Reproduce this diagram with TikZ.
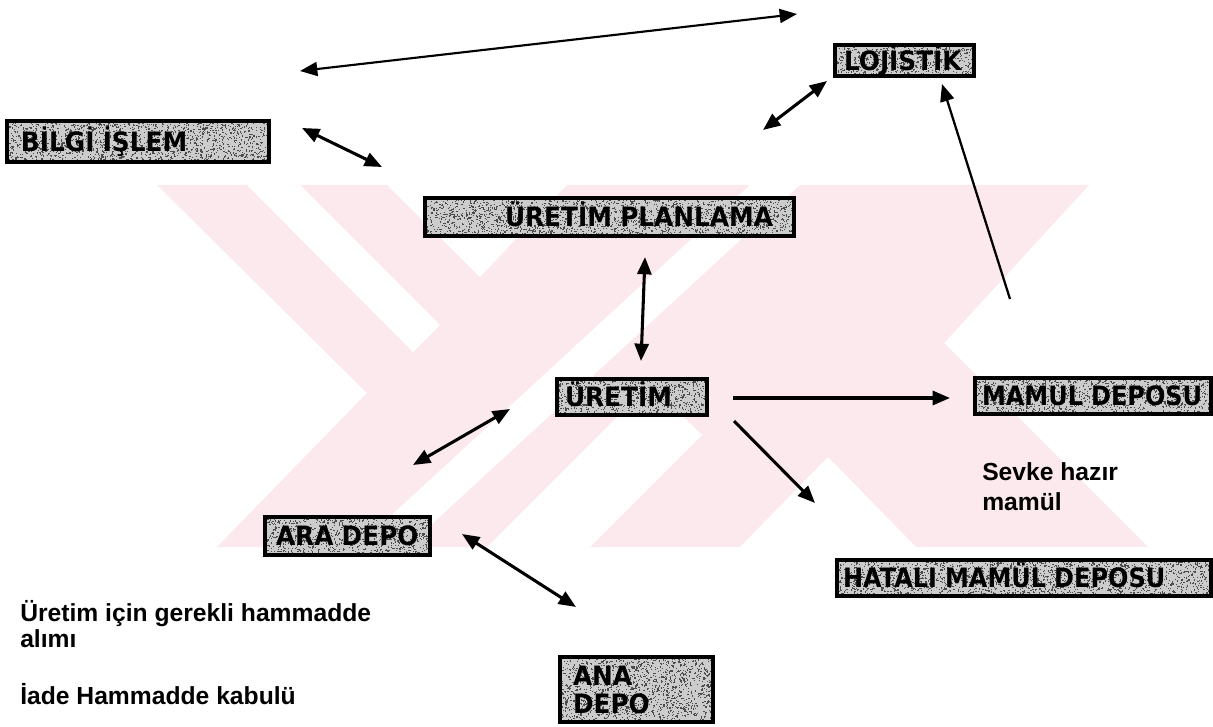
\documentclass[tikz,border=0pt]{standalone}
\usepackage{graphicx}
\usepackage{fontspec}
\setmainfont{Liberation Sans}
\newfontfamily\stagefont{DejaVu Sans}
\usetikzlibrary{arrows.meta}
\definecolor{wmpink}{RGB}{252,233,237}
\definecolor{boxgray}{RGB}{204,204,204}
\pgfdeclarelayer{emblem}
\pgfdeclarelayer{grain}
\pgfsetlayers{emblem,grain,main}

% condensed lettering
\newcommand\narrow[2][0.93]{\scalebox{#1}[1]{#2}}

% grainy fill under a department box
\newcommand\grain[2]{%
  \fill[boxgray] (#1.south west) rectangle (#1.north east);
  \path (#1.south west); \pgfgetlastxy{\gax}{\gay}%
  \path (#1.north east); \pgfgetlastxy{\gbx}{\gby}%
  \pgfmathsetmacro\gw{\gbx-\gax-0.9}%
  \pgfmathsetmacro\gh{\gby-\gay-0.9}%
  \foreach \k in {1,...,#2}{%
    \pgfmathsetmacro\rx{\gax+rnd*\gw}%
    \pgfmathsetmacro\ry{\gay+rnd*\gh}%
    \fill[black!70] (\rx pt,\ry pt) rectangle ++(0.9pt,0.9pt);
  }%
}

\tikzset{
  stage/.style={draw=black, line width=2.6pt, inner xsep=2.25pt, inner ysep=0pt,
    align=left, font=\stagefont\bfseries\fontsize{20}{21}\selectfont,
    text height=14.6pt, text depth=0pt},
  flow/.style={line width=2.3pt, -{Triangle[length=13pt,width=10.5pt]}},
  both/.style={line width=2.3pt, {Triangle[length=13pt,width=10.5pt]}-{Triangle[length=13pt,width=10.5pt]}},
  note/.style={font=\bfseries\fontsize{18.5}{20}\selectfont, anchor=base west, inner sep=0pt},
}
\begin{document}
\pgfmathsetseed{2718}
\begin{tikzpicture}[x=0.75pt,y=-0.75pt]
\useasboundingbox (0,0) rectangle (1213,727);

% background emblem
\begin{pgfonlayer}{emblem}
\fill[white] (0,0) rectangle (1213,727);
\fill[wmpink] (157,185) -- (1089,185) -- (944,343) -- (1148,547) -- (217,547) -- (367,393) -- cycle;
\fill[white] (247,185) -- (300,185) -- (440,325) -- (413,352) -- cycle;
\fill[white] (387,185) -- (567,185) -- (480,277) -- cycle;
\fill[white] (357,547) -- (407,547) -- (800,185) -- (750,185) -- cycle;
\fill[white] (487,547) -- (590,547) -- (702,435) -- (650,384) -- cycle;
\fill[white] (740,547) -- (828,457) -- (916,547) -- cycle;
\end{pgfonlayer}

% departments
\node[stage, minimum width=196.5pt, minimum height=30.75pt, text width=192pt] (bilgi) at (138,141.5) {\hspace*{8.25pt}\narrow{BİLGİ İŞLEM}};
\node[stage, minimum width=104.25pt, minimum height=23.25pt, text width=99.75pt] (lojistik) at (904.5,60.5) {\hspace*{4.5pt}\narrow{LOJİSTİK}};
\node[stage, minimum width=276.75pt, minimum height=28.5pt, text width=272.25pt] (planlama) at (609.5,217) {\hspace*{57.75pt}\narrow{ÜRETİM PLANLAMA}};
\node[stage, minimum width=112.5pt, minimum height=27pt, text width=108pt] (uretim) at (632,397) {\hspace*{3.75pt}\narrow{ÜRETİM}};
\node[stage, minimum width=177pt, minimum height=27pt, text width=172.5pt] (mamul) at (1093,396) {\hspace*{3pt}\narrow[0.9]{MAMUL DEPOSU}};
\node[stage, minimum width=123.75pt, minimum height=28.5pt, text width=119.25pt] (ara) at (347.5,536) {\hspace*{6pt}\narrow{ARA DEPO}};
\node[stage, minimum width=280.5pt, minimum height=27pt, text width=276pt] (hatali) at (1024,578) {\hspace*{2.25pt}\narrow[0.9]{HATALI MAMÜL DEPOSU}};
\node[stage, minimum width=114.75pt, minimum height=48.75pt, text width=110.25pt, text height=, text depth=] (ana) at (636.5,689.5) {\hspace*{7.5pt}\narrow{ANA}\\\hspace*{7.5pt}\narrow{DEPO}};

\begin{pgfonlayer}{grain}
\grain{bilgi}{1700}
\grain{lojistik}{680}
\grain{planlama}{2200}
\grain{uretim}{850}
\grain{mamul}{1330}
\grain{ara}{990}
\grain{hatali}{2120}
\grain{ana}{1560}
\end{pgfonlayer}

% notes
\node[note] (sevke1) at (982,480) {Sevke hazır};
\node[note] (sevke2) at (982,510) {mamül};
\node[note] (hammadde1) at (20,621) {Üretim için gerekli hammadde};
\node[note] (hammadde2) at (20,647) {alımı};
\node[note] (iade) at (20,704) {İade Hammadde kabulü};

% connector end points
\coordinate (topL) at (300,71);
\coordinate (topR) at (797,14);
\coordinate (bilA) at (302,128);
\coordinate (bilB) at (382,167);
\coordinate (logA) at (827,81);
\coordinate (logB) at (763,130);
\coordinate (mamA) at (1010,299);
\coordinate (mamB) at (942,84);
\coordinate (plnA) at (645,257);
\coordinate (plnB) at (641,361);
\coordinate (urtA) at (733,398);
\coordinate (urtB) at (950,398);
\coordinate (hatA) at (734,421);
\coordinate (hatB) at (815,503);
\coordinate (araA) at (413,465);
\coordinate (araB) at (510,409);
\coordinate (anaA) at (462,534);
\coordinate (anaB) at (576,607);

% connectors
\draw[both, line width=1.6pt] (topL) -- (topR);
\draw[both] (bilA) -- (bilB);
\draw[both] (logA) -- (logB);
\draw[flow, line width=1.7pt] (mamA) -- (mamB);
\draw[both] (plnA) -- (plnB);
\draw[flow] (urtA) -- (urtB);
\draw[flow] (hatA) -- (hatB);
\draw[both] (araA) -- (araB);
\draw[both] (anaA) -- (anaB);
\end{tikzpicture}
\end{document}
